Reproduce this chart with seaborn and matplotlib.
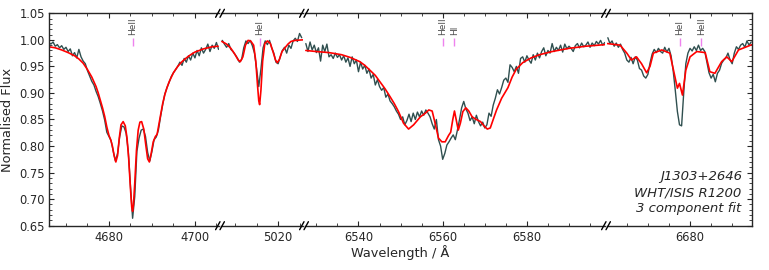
import numpy as np
import pandas as pd
import matplotlib
matplotlib.use("Agg")
import matplotlib.pyplot as plt
import seaborn as sns
from matplotlib.ticker import MultipleLocator, FormatStrFormatter
from matplotlib.lines import Line2D

# ---------------- data ----------------
step = 0.5
obs1_start = 4666.0
obs1_flux = [0.995, 0.992, 0.996, 0.988, 0.991, 0.985, 0.989, 0.982, 0.986, 0.978,
             0.983, 0.970, 0.976, 0.966, 0.982, 0.968, 0.960, 0.955, 0.942, 0.932,
             0.922, 0.915, 0.903, 0.893, 0.880, 0.866, 0.849, 0.826, 0.818, 0.810,
             0.790, 0.772, 0.786, 0.818, 0.838, 0.836, 0.824, 0.790, 0.725, 0.664,
             0.705, 0.790, 0.815, 0.830, 0.832, 0.818, 0.788, 0.772, 0.790, 0.812,
             0.817, 0.830, 0.855, 0.878, 0.898, 0.910, 0.920, 0.931, 0.938, 0.944,
             0.950, 0.958, 0.952, 0.965, 0.958, 0.970, 0.962, 0.975, 0.966, 0.980,
             0.970, 0.985, 0.975, 0.982, 0.992, 0.978, 0.990, 0.984, 0.995, 0.982]
obs2_start = 5007.0
obs2_flux = [0.999, 0.992, 0.986, 0.993, 0.982, 0.978, 0.972, 0.966, 0.958, 0.963,
             0.985, 0.998, 0.993, 0.999, 0.989, 0.975, 0.945, 0.912, 0.945, 0.985,
             0.998, 0.991, 0.999, 0.985, 0.975, 0.958, 0.955, 0.968, 0.980, 0.986,
             0.975, 0.990, 0.984, 0.998, 1.003, 0.997, 1.012, 1.004]
obs3_start = 6527.5
obs3_flux = [0.993, 0.978, 0.996, 0.981, 0.990, 0.976, 0.985, 0.960, 0.990, 0.978,
             0.992, 0.968, 0.972, 0.965, 0.975, 0.967, 0.972, 0.962, 0.970, 0.958,
             0.966, 0.950, 0.968, 0.955, 0.962, 0.940, 0.958, 0.945, 0.952, 0.937,
             0.945, 0.928, 0.935, 0.915, 0.925, 0.912, 0.905, 0.910, 0.892, 0.898,
             0.885, 0.880, 0.874, 0.866, 0.860, 0.850, 0.855, 0.840, 0.848, 0.860,
             0.846, 0.862, 0.850, 0.864, 0.855, 0.866, 0.858, 0.868, 0.862, 0.855,
             0.842, 0.832, 0.850, 0.812, 0.800, 0.775, 0.786, 0.802, 0.808, 0.815,
             0.821, 0.812, 0.830, 0.850, 0.872, 0.884, 0.870, 0.862, 0.848, 0.855,
             0.842, 0.858, 0.846, 0.838, 0.845, 0.834, 0.840, 0.862, 0.856, 0.877,
             0.890, 0.906, 0.898, 0.910, 0.924, 0.928, 0.920, 0.953, 0.948, 0.940,
             0.950, 0.937, 0.965, 0.968, 0.958, 0.970, 0.962, 0.956, 0.972, 0.962,
             0.975, 0.966, 0.978, 0.985, 0.970, 0.980, 0.975, 0.993, 0.978, 0.986,
             0.980, 0.990, 0.977, 0.992, 0.983, 0.988, 0.984, 0.978, 0.989, 0.993,
             0.985, 0.994, 0.987, 0.990, 0.996, 0.986, 0.994, 0.989, 0.997, 0.992,
             0.999, 0.990, 0.995]
obs4_start = 6660.5
obs4_flux = [1.004, 0.993, 0.998, 0.988, 0.994, 0.986, 0.992, 0.982, 0.975, 0.962,
             0.958, 0.967, 0.955, 0.968, 0.962, 0.946, 0.943, 0.932, 0.928, 0.935,
             0.956, 0.973, 0.982, 0.976, 0.984, 0.978, 0.975, 0.986, 0.977, 0.984,
             0.970, 0.942, 0.905, 0.865, 0.840, 0.838, 0.900, 0.955, 0.975, 0.984,
             0.979, 0.987, 0.980, 0.990, 0.980, 0.984, 0.978, 0.958, 0.938, 0.928,
             0.935, 0.921, 0.937, 0.943, 0.956, 0.962, 0.966, 0.975, 0.962, 0.955,
             0.975, 0.987, 0.982, 0.990, 0.993, 0.986, 0.998, 0.990, 0.996]

fit1_wl = [4666.0, 4667.5, 4669.0, 4670.5, 4672.0, 4673.0, 4674.0, 4675.0, 4676.0, 4677.0,
           4677.5, 4678.0, 4678.5, 4679.0, 4679.5, 4680.0, 4680.4, 4680.8, 4681.2, 4681.6,
           4682.0, 4682.4, 4682.8, 4683.3, 4683.8, 4684.2, 4684.6, 4685.0, 4685.3, 4685.5,
           4685.7, 4686.0, 4686.4, 4686.8, 4687.2, 4687.6, 4688.1, 4688.6, 4689.0, 4689.4,
           4689.8, 4690.3, 4690.8, 4691.2, 4691.6, 4692.0, 4692.5, 4693.0, 4693.5, 4694.0,
           4695.0, 4696.0, 4697.0, 4698.0, 4699.0, 4700.0, 4701.0, 4702.0, 4703.0, 4704.0,
           4705.4]
fit1_flux = [0.987, 0.985, 0.981, 0.976, 0.970, 0.964, 0.956, 0.944, 0.930, 0.912,
             0.900, 0.886, 0.872, 0.856, 0.836, 0.820, 0.812, 0.800, 0.782, 0.770,
             0.782, 0.815, 0.840, 0.846, 0.838, 0.815, 0.775, 0.720, 0.685, 0.677,
             0.690, 0.730, 0.792, 0.830, 0.845, 0.846, 0.832, 0.800, 0.776, 0.770,
             0.785, 0.808, 0.818, 0.822, 0.840, 0.858, 0.880, 0.897, 0.910, 0.921,
             0.938, 0.950, 0.959, 0.966, 0.972, 0.977, 0.980, 0.983, 0.985, 0.987,
             0.988]
fit2_wl = [5006.9, 5008.0, 5009.0, 5010.0, 5010.7, 5011.2, 5011.8, 5012.4, 5013.0, 5013.6,
           5014.3, 5014.8, 5015.2, 5015.5, 5015.7, 5016.0, 5016.4, 5016.9, 5017.5, 5018.2,
           5018.8, 5019.4, 5019.8, 5020.3, 5020.9, 5021.6, 5022.3, 5023.0, 5024.0, 5025.8]
fit2_flux = [0.997, 0.992, 0.984, 0.972, 0.962, 0.959, 0.968, 0.990, 0.999, 0.998,
             0.990, 0.960, 0.915, 0.885, 0.878, 0.905, 0.960, 0.993, 0.998, 0.993,
             0.978, 0.962, 0.957, 0.963, 0.978, 0.985, 0.992, 0.997, 0.999, 1.000]
fit3_wl = [6527.5, 6530.0, 6533.0, 6536.0, 6538.0, 6540.3, 6541.5, 6542.7, 6544.0, 6545.1,
           6546.3, 6547.5, 6548.5, 6549.5, 6550.7, 6551.9, 6553.1, 6554.7, 6555.9, 6556.7,
           6557.5, 6558.2, 6559.0, 6559.8, 6560.6, 6561.4, 6561.9, 6562.4, 6562.8, 6563.2,
           6563.7, 6564.2, 6564.8, 6565.5, 6566.2, 6567.0, 6568.0, 6569.0, 6569.8, 6570.6,
           6571.3, 6572.0, 6572.8, 6574.0, 6575.5, 6576.5, 6577.5, 6579.0, 6581.0, 6583.0,
           6586.0, 6590.0, 6594.0, 6598.5]
fit3_flux = [0.980, 0.978, 0.976, 0.972, 0.967, 0.959, 0.952, 0.943, 0.933, 0.921,
             0.908, 0.893, 0.880, 0.865, 0.843, 0.832, 0.840, 0.855, 0.862, 0.868,
             0.866, 0.843, 0.815, 0.808, 0.808, 0.820, 0.826, 0.850, 0.866, 0.850,
             0.830, 0.843, 0.865, 0.872, 0.866, 0.855, 0.850, 0.846, 0.838, 0.832,
             0.834, 0.850, 0.868, 0.890, 0.910, 0.930, 0.945, 0.957, 0.966, 0.972,
             0.978, 0.984, 0.988, 0.991]
fit4_wl = [6660.4, 6663.4, 6665.0, 6666.1, 6667.3, 6668.5, 6669.7, 6670.5, 6671.3, 6673.3,
           6675.2, 6676.4, 6677.0, 6677.5, 6678.2, 6679.0, 6680.0, 6681.6, 6683.6, 6684.7,
           6685.9, 6687.5, 6688.7, 6689.9, 6691.5, 6694.7]
fit4_flux = [0.993, 0.990, 0.975, 0.962, 0.968, 0.955, 0.938, 0.950, 0.975, 0.981,
             0.975, 0.931, 0.909, 0.918, 0.896, 0.943, 0.968, 0.978, 0.976, 0.940,
             0.937, 0.959, 0.968, 0.959, 0.981, 0.991]

line_wl = [4685.6, 5015.7, 6560.1, 6562.8, 6677.6, 6682.7]
line_names = ["HeII", "HeI", "HeII", "HI", "HeI", "HeII"]

panel_xlim = [(4666.05, 4705.6), (5006.7, 5025.8), (6527.3, 6598.55), (6660.3, 6694.7)]
panel_px = [(49, 219), (221, 303), (305, 605), (607, 752)]

# ---------------- style ----------------
sns.set_style("ticks")
plt.rcParams["font.family"] = ["DejaVu Sans"]
plt.rcParams["xtick.direction"] = "in"
plt.rcParams["ytick.direction"] = "in"

W, H = 769, 270
fig = plt.figure(figsize=(W / 100, H / 100), dpi=100)
ax_top_px, ax_bot_px = 13.3, 225.7

obs_sets = [(obs1_start, obs1_flux), (obs2_start, obs2_flux),
            (obs3_start, obs3_flux), (obs4_start, obs4_flux)]
fit_sets = [(fit1_wl, fit1_flux), (fit2_wl, fit2_flux),
            (fit3_wl, fit3_flux), (fit4_wl, fit4_flux)]

axes = []
for i in range(4):
    l, r = panel_px[i]
    ax = fig.add_axes([l / W, 1 - ax_bot_px / H, (r - l) / W, (ax_bot_px - ax_top_px) / H])
    axes.append(ax)
    start, flux = obs_sets[i]
    wl = start + step * np.arange(len(flux))
    dfo = pd.DataFrame({"wl": wl, "flux": flux})
    fw, ff = fit_sets[i]
    dff = pd.DataFrame({"wl": fw, "flux": ff})
    sns.lineplot(data=dfo, x="wl", y="flux", ax=ax, color="#2F4F4F", lw=1.0,
                 estimator=None, sort=False)
    sns.lineplot(data=dff, x="wl", y="flux", ax=ax, color="red", lw=1.2,
                 estimator=None, sort=False)
    ax.set_xlim(*panel_xlim[i])
    ax.set_ylim(0.65, 1.05)
    ax.set_xlabel("")
    ax.set_ylabel("")
    ax.xaxis.set_major_locator(MultipleLocator(20))
    ax.xaxis.set_minor_locator(MultipleLocator(5))
    ax.tick_params(axis="x", which="both", top=True, bottom=True, labelsize=8.3, pad=4)
    ax.tick_params(axis="both", which="major", length=3.5, width=0.8)
    ax.tick_params(axis="both", which="minor", length=2.0, width=0.6)
    for s in ax.spines.values():
        s.set_linewidth(1.0)
    ax.spines["left"].set_visible(i == 0)
    ax.spines["right"].set_visible(i == 3)
    if i == 0:
        ax.yaxis.set_major_locator(MultipleLocator(0.05))
        ax.yaxis.set_minor_locator(MultipleLocator(0.01))
        ax.yaxis.set_major_formatter(FormatStrFormatter("%.2f"))
        ax.tick_params(axis="y", which="both", left=True, right=False, labelsize=8.3, pad=3)
    elif i == 3:
        ax.yaxis.set_major_locator(MultipleLocator(0.05))
        ax.yaxis.set_minor_locator(MultipleLocator(0.01))
        ax.tick_params(axis="y", which="both", left=False, right=True, labelleft=False)
    else:
        ax.tick_params(axis="y", which="both", left=False, right=False, labelleft=False)
    # line identifications
    for w, name in zip(line_wl, line_names):
        if panel_xlim[i][0] < w < panel_xlim[i][1]:
            ax.vlines(w, 0.988, 1.004, color="violet", lw=1.0)
            ax.text(w, 1.0085, name, rotation=90, ha="center", va="bottom",
                    fontsize=6.5, color="0.3")

axes[0].set_ylabel("Normalised Flux", fontsize=9.3)
fig.text(400 / W, 1 - 253 / H, "Wavelength / Å", ha="center", va="center", fontsize=9.3)

fig.text(741.7 / W, 1 - 215 / H, "J1303+2646\nWHT/ISIS R1200\n3 component fit",
         ha="right", va="bottom", fontsize=9.5, style="italic", linespacing=1.3)

# axis break marks
for xb in [220, 304, 606]:
    for yb in [ax_top_px, ax_bot_px]:
        for off in (-2.2, 2.2):
            fig.add_artist(Line2D([(xb + off - 2.2) / W, (xb + off + 2.2) / W],
                                  [1 - (yb + 4) / H, 1 - (yb - 4) / H],
                                  color="k", lw=1.0, transform=fig.transFigure))

fig.savefig("out.png", dpi=100)
